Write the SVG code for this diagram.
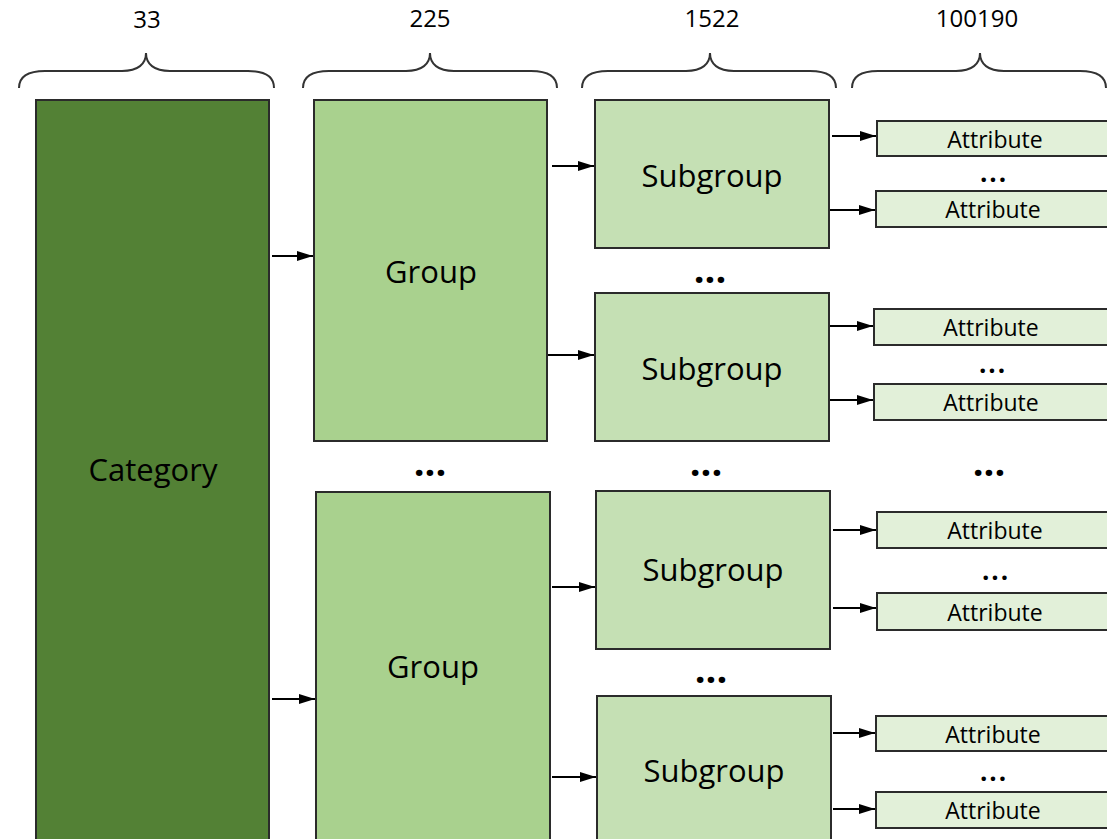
<svg xmlns="http://www.w3.org/2000/svg" width="1107" height="839" viewBox="0 0 1107 839">
<defs>
<marker id="ah" markerWidth="16" markerHeight="10" refX="16" refY="5" orient="auto" markerUnits="userSpaceOnUse">
<path d="M0,0 L16,5 L0,10 Z" fill="#000"/>
</marker>
<style>
text{font-family:"Open Sans","Noto Sans","Liberation Sans",sans-serif;fill:#000;text-anchor:middle}
.cat{fill:#538135;stroke:#2b2b2b;stroke-width:2}
.grp{fill:#a9d18e;stroke:#2b2b2b;stroke-width:2}
.sub{fill:#c5e0b4;stroke:#2b2b2b;stroke-width:2}
.att{fill:#e2f0d9;stroke:#2b2b2b;stroke-width:2}
.big{font-size:31px}
.sm{font-size:23px}
.num{font-size:24px}
.dots{font-size:38px;font-weight:bold}
.dsm{font-size:26px;font-weight:bold;letter-spacing:2px}
.brace{fill:none;stroke:#333;stroke-width:2}
.con line{stroke:#000;stroke-width:2;marker-end:url(#ah)}
</style>
</defs>
<rect width="1107" height="839" fill="#fff"/>
<g id="headers">
<text class="num" x="147" y="28">33</text>
<text class="num" x="430" y="27">225</text>
<text class="num" x="712" y="27">1522</text>
<text class="num" x="977" y="27">100190</text>
<path class="brace" d="M19,88 C19,76 28,71 45,71 L122,71 C138,71 146,64 146,53 C146,64 154,71 170,71 L248,71 C265,71 274,76 274,88"/>
<path class="brace" d="M303,88 C303,76 312,71 329,71 L406,71 C422,71 430,64 430,53 C430,64 438,71 454,71 L531,71 C548,71 557,76 557,88"/>
<path class="brace" d="M582,88 C582,76 591,71 608,71 L686,71 C702,71 710,64 710,53 C710,64 718,71 734,71 L810,71 C827,71 836,76 836,88"/>
<path class="brace" d="M852,88 C852,76 861,71 878,71 L956,71 C972,71 980,64 980,53 C980,64 988,71 1004,71 L1080,71 C1097,71 1106,76 1106,88"/>
</g>
<g id="category">
<rect class="cat" x="36" y="100" width="233" height="750"/>
<text class="big" x="153" y="481">Category</text>
</g>
<g id="group1">
<rect class="grp" x="314" y="100" width="233" height="341"/>
<text class="big" x="431" y="283">Group</text>
</g>
<g id="group2">
<rect class="grp" x="316" y="492" width="234" height="360"/>
<text class="big" x="433" y="678">Group</text>
</g>
<g id="subgroup1">
<rect class="sub" x="595" y="100" width="234" height="148"/>
<text class="big" x="712" y="187">Subgroup</text>
</g>
<g id="subgroup2">
<rect class="sub" x="595" y="293" width="234" height="148"/>
<text class="big" x="712" y="380">Subgroup</text>
</g>
<g id="subgroup3">
<rect class="sub" x="596" y="491" width="234" height="158"/>
<text class="big" x="713" y="581">Subgroup</text>
</g>
<g id="subgroup4">
<rect class="sub" x="597" y="696" width="234" height="156"/>
<text class="big" x="714" y="782">Subgroup</text>
</g>
<g id="attr1"><rect class="att" x="877" y="121" width="240" height="35"/><text class="sm" x="995" y="148">Attribute</text></g>
<g id="attr2"><rect class="att" x="876" y="191" width="240" height="36"/><text class="sm" x="993" y="218">Attribute</text></g>
<g id="attr3"><rect class="att" x="874" y="309" width="240" height="36"/><text class="sm" x="991" y="336">Attribute</text></g>
<g id="attr4"><rect class="att" x="874" y="384" width="240" height="36"/><text class="sm" x="991" y="411">Attribute</text></g>
<g id="attr5"><rect class="att" x="877" y="512" width="240" height="36"/><text class="sm" x="995" y="539">Attribute</text></g>
<g id="attr6"><rect class="att" x="877" y="593" width="240" height="37"/><text class="sm" x="995" y="621">Attribute</text></g>
<g id="attr7"><rect class="att" x="876" y="716" width="240" height="35"/><text class="sm" x="993" y="743">Attribute</text></g>
<g id="attr8"><rect class="att" x="876" y="792" width="240" height="36"/><text class="sm" x="993" y="819">Attribute</text></g>
<g id="ellipses">
<text class="dots" x="710" y="283">...</text>
<text class="dots" x="430" y="476">...</text>
<text class="dots" x="706" y="476">...</text>
<text class="dots" x="989" y="476">...</text>
<text class="dots" x="711" y="683">...</text>
<text class="dsm" x="994" y="182">...</text>
<text class="dsm" x="993" y="373">...</text>
<text class="dsm" x="996" y="580">...</text>
<text class="dsm" x="994" y="781">...</text>
</g>
<g id="connectors" class="con">
<line x1="272" y1="256" x2="313" y2="256"/>
<line x1="272" y1="699" x2="315" y2="699"/>
<line x1="552" y1="166" x2="594" y2="166"/>
<line x1="548" y1="355" x2="594" y2="355"/>
<line x1="552" y1="587" x2="595" y2="587"/>
<line x1="552" y1="777" x2="596" y2="777"/>
<line x1="832" y1="136" x2="876" y2="136"/>
<line x1="830" y1="210" x2="875" y2="210"/>
<line x1="830" y1="326" x2="873" y2="326"/>
<line x1="830" y1="400" x2="873" y2="400"/>
<line x1="833" y1="530" x2="876" y2="530"/>
<line x1="833" y1="608" x2="876" y2="608"/>
<line x1="833" y1="733" x2="875" y2="733"/>
<line x1="833" y1="809" x2="875" y2="809"/>
</g>
</svg>
